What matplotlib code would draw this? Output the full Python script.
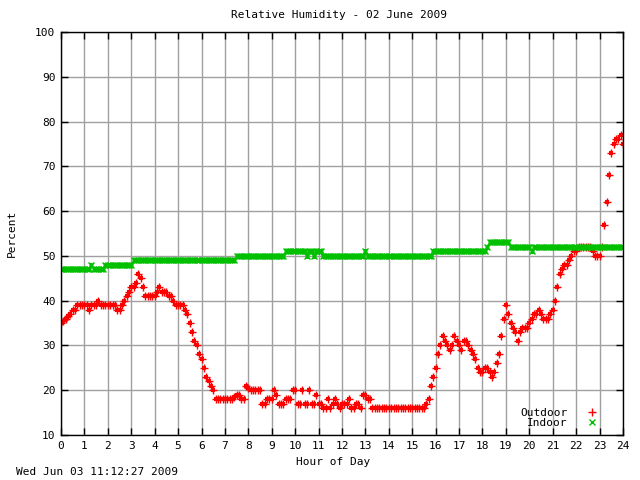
import numpy as np
import matplotlib
matplotlib.use("Agg")
import matplotlib.pyplot as plt

# ===================================================== #
# 데이터 : 0.1 시간 간격 (한 줄 = 한 시간)
hours = np.arange(0, 24.01, 0.1)

outdoor = [
    35, 35.5, 36, 36.5, 37, 38, 38, 39, 39, 39,      # 0
    39, 39, 38, 39, 39, 39, 40, 39, 39, 39,          # 1
    39, 39, 39, 39, 38, 38, 39, 40, 41, 42,          # 2
    43, 43, 44, 46, 45, 43, 41, 41, 41, 41,          # 3
    41, 42, 43, 42, 42, 42, 41, 41, 40, 39,          # 4
    39, 39, 39, 38, 37, 35, 33, 31, 30, 28,          # 5
    27, 25, 23, 22, 21, 20, 18, 18, 18, 18,          # 6
    18, 18, 18, 18, 18.5, 19, 19, 18, 18, 21,        # 7
    20.5, 20, 20, 20, 20, 20, 17, 17, 18, 18,        # 8
    18, 20, 19, 17, 17, 17, 18, 18, 18, 20,          # 9
    20, 17, 17, 20, 17, 17, 20, 17, 17, 19,          # 10
    17, 17, 16, 16, 18, 16, 17, 18, 17, 16,          # 11
    17, 17, 17, 18, 16, 16, 17, 17, 16, 19,          # 12
    19, 18, 18, 16, 16, 16, 16, 16, 16, 16,          # 13
    16, 16, 16, 16, 16, 16, 16, 16, 16, 16,          # 14
    16, 16, 16, 16, 16, 16, 17, 18, 21, 23,          # 15
    25, 28, 30, 32, 31, 30, 29, 30, 32, 31,          # 16
    30, 29, 31, 31, 30, 29, 28, 27, 25, 24,          # 17
    24, 25, 25, 24, 23, 24, 26, 28, 32, 36,          # 18
    39, 37, 35, 34, 33, 31, 33, 34, 34, 34,          # 19
    35, 36, 37, 37, 38, 37, 36, 36, 36, 37,          # 20
    38, 40, 43, 46, 47, 48, 48, 49, 50, 51,          # 21
    51, 52, 52, 52, 52, 52, 52, 51, 50, 50,          # 22
    50, 52, 57, 62, 68, 73, 75, 76, 76, 77,          # 23
    75,
]

indoor = [
    47, 47, 47, 47, 47, 47, 47, 47, 47, 47,
    47, 47, 47, 48, 47, 47, 47, 47, 47, 48,
    48, 48, 48, 48, 48, 48, 48, 48, 48, 48,
    48, 49, 49, 49, 49, 49, 49, 49, 49, 49,
    49, 49, 49, 49, 49, 49, 49, 49, 49, 49,
    49, 49, 49, 49, 49, 49, 49, 49, 49, 49,
    49, 49, 49, 49, 49, 49, 49, 49, 49, 49,
    49, 49, 49, 49, 49, 50, 50, 50, 50, 50,
    50, 50, 50, 50, 50, 50, 50, 50, 50, 50,
    50, 50, 50, 50, 50, 50, 51, 51, 51, 51,
    51, 51, 51, 51, 51, 50, 51, 51, 50, 51,
    51, 51, 50, 50, 50, 50, 50, 50, 50, 50,
    50, 50, 50, 50, 50, 50, 50, 50, 50, 50,
    51, 50, 50, 50, 50, 50, 50, 50, 50, 50,
    50, 50, 50, 50, 50, 50, 50, 50, 50, 50,
    50, 50, 50, 50, 50, 50, 50, 50, 50, 51,
    51, 51, 51, 51, 51, 51, 51, 51, 51, 51,
    51, 51, 51, 51, 51, 51, 51, 51, 51, 51,
    51, 51, 52, 53, 53, 53, 53, 53, 53, 53,
    53, 53, 52, 52, 52, 52, 52, 52, 52, 52,
    52, 51, 52, 52, 52, 52, 52, 52, 52, 52,
    52, 52, 52, 52, 52, 52, 52, 52, 52, 52,
    52, 52, 52, 52, 52, 52, 52, 52, 52, 52,
    52, 52, 52, 52, 52, 52, 52, 52, 52, 52,
    52,
]

x_ticks = list(range(0, 25))
y_ticks = list(range(10, 101, 10))

RED = '#ff0000'
GREEN = '#00c000'

# ===================================================== #
plt.rcParams['font.family'] = 'DejaVu Sans Mono'
fig = plt.figure(figsize=(6.4, 4.8), dpi=100)
ax = fig.add_axes([61 / 640, 1 - 435 / 480, 562 / 640, 403 / 480])

# 촘촘한 측정값처럼 보이도록 가로 막대 마커를 함께 그림
ax.plot(hours, outdoor, ls='none', marker='_', ms=3.5, mew=3.0, color=RED)
ax.plot(hours, outdoor, ls='none', marker='+', ms=5.5, mew=1.0,
        color=RED, label='Outdoor')
ax.plot(hours, indoor, ls='none', marker='_', ms=3.5, mew=3.5, color=GREEN)
ax.plot(hours, indoor, ls='none', marker='x', ms=4, mew=1.0,
        color=GREEN, label='Indoor')

ax.set_xlim(0, 24)
ax.set_ylim(10, 100)
ax.set_xticks(x_ticks)
ax.set_yticks(y_ticks)
ax.grid(True, color='#a0a0a0', lw=1)
ax.set_axisbelow(True)
ax.tick_params(direction='in', top=True, right=True, length=5,
               labelsize=8, width=1, pad=4)
for s in ax.spines.values():
    s.set_linewidth(1)

leg = ax.legend(loc='lower right', frameon=False, markerfirst=False,
                fontsize=8, handlelength=1.2, labelspacing=0.05,
                handletextpad=1.6,
                bbox_to_anchor=(0.968, 0.0), borderaxespad=0.2)

fig.text(339 / 640, 1 - 15 / 480, 'Relative Humidity - 02 June 2009',
         ha='center', va='center', fontsize=8)
fig.text(333 / 640, 1 - 462 / 480, 'Hour of Day',
         ha='center', va='center', fontsize=8)
fig.text(12 / 640, 1 - 233 / 480, 'Percent', rotation=90,
         ha='center', va='center', fontsize=8)
fig.text(16 / 640, 1 - 472 / 480, 'Wed Jun 03 11:12:27 2009',
         ha='left', va='center', fontsize=8)

fig.savefig('out.png', dpi=100)
